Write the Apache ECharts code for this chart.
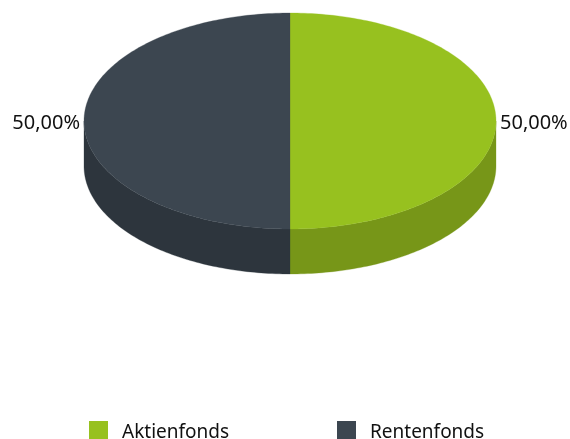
<!DOCTYPE html>
<html><head><meta charset="utf-8">
<style>html,body{margin:0;padding:0;background:#fff}#c{width:570px;height:439px}</style>
<script src="https://cdn.jsdelivr.net/npm/echarts@6/dist/echarts.min.js"></script>
</head><body><div id="c"></div>
<script>
var categories = ['Aktienfonds', 'Rentenfonds'];
var shares = [50, 50];
var topColors = ['#97c11f', '#3c4650'];
var sideColors = ['#779618', '#2d353d'];
var FONT = '"Noto Sans"';
var CX = 290, CY = 121, RX = 206, RY = 108, DEPTH = 45;
var total = shares.reduce(function (a, b) { return a + b; }, 0);

function pt(deg, dy) {
  var r = deg * Math.PI / 180;
  return [CX + RX * Math.sin(r), CY - RY * Math.cos(r) + (dy || 0)];
}
function arc(a, b, dy) {
  var out = [], n = Math.max(2, Math.ceil(Math.abs(b - a) / 1));
  for (var i = 0; i <= n; i++) out.push(pt(a + (b - a) * i / n, dy));
  return out;
}
function makeRender(idx) {
  return function (params, api) {
    var before = 0;
    for (var i = 0; i < idx; i++) before += shares[i];
    var a = before / total * 360;
    var b = a + api.value(0) / total * 360;
    var children = [];
    var sa = Math.max(a, 90), sb = Math.min(b, 270);
    if (sb > sa) {
      children.push({
        type: 'polygon',
        shape: { points: arc(sa, sb, 0).concat(arc(sb, sa, DEPTH)) },
        style: { fill: sideColors[idx], stroke: sideColors[idx], lineWidth: 0.3 }
      });
    }
    children.push({
      type: 'polygon',
      shape: { points: [[CX, CY]].concat(arc(a, b, 0)) },
      style: { fill: topColors[idx], stroke: topColors[idx], lineWidth: 0.3 }
    });
    var mid = (a + b) / 2;
    var right = Math.sin(mid * Math.PI / 180) >= 0;
    children.push({
      type: 'text',
      style: {
        x: right ? 500 : 80, y: 123,
        text: (api.value(0) / total * 100).toFixed(2).replace('.', ',') + '%',
        font: '20px ' + FONT, fill: '#111',
        align: right ? 'left' : 'right', verticalAlign: 'middle'
      }
    });
    return { type: 'group', children: children };
  };
}
var series = categories.map(function (name, i) {
  return {
    type: 'custom', name: name, coordinateSystem: 'none',
    itemStyle: { color: topColors[i] },
    renderItem: makeRender(i), data: [[shares[i]]], silent: true, animation: false
  };
});
var legendX = [89, 337];
var legend = categories.map(function (name, i) {
  return {
    left: legendX[i], top: 421, padding: 0, orient: 'horizontal', data: [{ name: name, icon: 'rect' }],
    itemWidth: 19, itemHeight: 19, itemGap: 0, selectedMode: false,
    formatter: '{a|{name}}',
    textStyle: {
      fontFamily: 'Noto Sans', fontSize: 19, color: '#111',
      rich: { a: { fontFamily: 'Noto Sans', fontSize: 19, color: '#111', padding: [4, 0, 0, 9] } }
    }
  };
});
var chart = echarts.init(document.getElementById('c'), null, { renderer: 'canvas' });
chart.setOption({ animation: false, backgroundColor: '#fff', legend: legend, series: series });
</script></body></html>
